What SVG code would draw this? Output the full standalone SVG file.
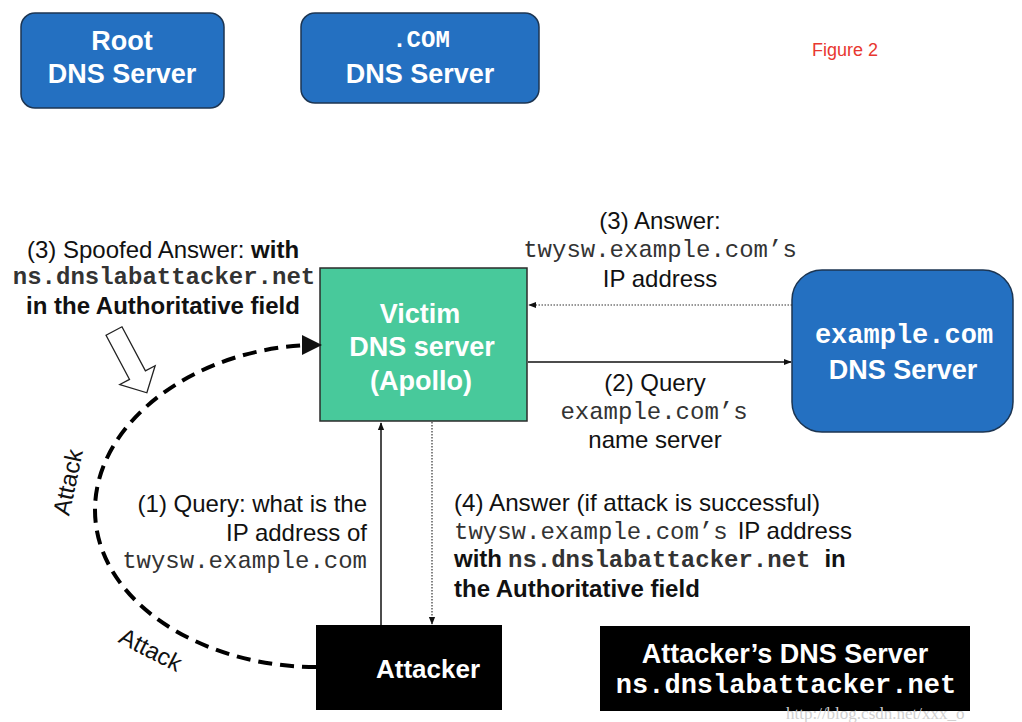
<svg xmlns="http://www.w3.org/2000/svg" width="1022" height="722" viewBox="0 0 1022 722">
<style>
.sans{font-family:"Liberation Sans",Arial,sans-serif}
.mono{font-family:"Liberation Mono","Courier New",monospace}
.lbl{font-family:"Liberation Sans",Arial,sans-serif;font-size:24px;fill:#111}
.ml{font-family:"Liberation Mono","Courier New",monospace;font-size:24px;fill:#333}
.b{font-weight:bold}
.wt{fill:#fff;font-weight:bold;font-family:"Liberation Sans",Arial,sans-serif;font-size:27px;text-anchor:middle}
.blue{fill:#2470c1;stroke:#1c3552;stroke-width:1.5}
</style>
<defs>
<marker id="ah" viewBox="0 0 10 10" refX="9" refY="5" markerWidth="8" markerHeight="8" markerUnits="userSpaceOnUse" orient="auto">
<path d="M0,1 L10,5 L0,9 Z" fill="#111"/>
</marker>
<marker id="ahb" viewBox="0 0 10 10" refX="8" refY="5" markerWidth="5" markerHeight="5" orient="auto">
<path d="M0,0 L10,5 L0,10 Z" fill="#111"/>
</marker>
</defs>
<rect width="1022" height="722" fill="#fff"/>

<g id="root-dns">
<rect class="blue" x="21" y="13" width="203" height="95" rx="14"/>
<text class="wt" x="122" y="50">Root</text>
<text class="wt" x="122" y="83">DNS Server</text>
</g>
<g id="com-dns">
<rect class="blue" x="301" y="13" width="238" height="90" rx="14"/>
<text class="wt" x="421" y="47" style="font-family:'Liberation Mono','Courier New',monospace;font-size:24px">.COM</text>
<text class="wt" x="420" y="83">DNS Server</text>
</g>
<text id="figure-label" class="sans" x="812" y="56" font-size="18" fill="#e8372f">Figure 2</text>

<g id="victim">
<rect x="320" y="268" width="207" height="153" fill="#48c99b" stroke="#2b2b2b" stroke-width="1.5"/>
<text class="wt" x="420" y="323">Victim</text>
<text class="wt" x="422" y="356">DNS server</text>
<text class="wt" x="421" y="390">(Apollo)</text>
</g>
<g id="example-dns">
<rect class="blue" x="792" y="270" width="221" height="162" rx="30"/>
<text class="wt" x="904" y="343" style="font-family:'Liberation Mono','Courier New',monospace;font-size:27px">example.com</text>
<text class="wt" x="903" y="379">DNS Server</text>
</g>
<g id="attacker">
<rect x="316" y="625" width="186" height="85" fill="#000"/>
<text class="wt" x="428" y="678" font-size="26" style="font-size:26px">Attacker</text>
</g>
<g id="attacker-dns">
<rect x="600" y="626" width="370" height="85" fill="#000"/>
<text class="wt" x="785" y="663">Attacker’s DNS Server</text>
<text class="wt" x="786" y="693" style="font-family:'Liberation Mono','Courier New',monospace;font-size:27px">ns.dnslabattacker.net</text>
</g>

<g id="connectors" fill="none">
<path d="M792,305 L529,305" stroke="#333" stroke-width="1.2" stroke-dasharray="1.5,1.5" marker-end="url(#ah)"/>
<path d="M528,362 L791,362" stroke="#111" stroke-width="1.5" marker-end="url(#ah)"/>
<path d="M381,625 L381,423" stroke="#111" stroke-width="1.5" marker-end="url(#ah)"/>
<path d="M432,422 L432,624" stroke="#333" stroke-width="1.2" stroke-dasharray="1.5,1.5" marker-end="url(#ah)"/>
<path d="M316,667 C200,667 95,600 95,510 C95,420 200,345 318,345" stroke="#000" stroke-width="4" stroke-dasharray="14,8" marker-end="url(#ahb)"/>
<polygon transform="translate(114,331) rotate(62)" points="0,-9 50,-9 50,-20 70,0 50,20 50,9 0,9" fill="#fff" stroke="#222" stroke-width="1.3"/>
</g>

<g id="labels">
<text class="lbl" x="163" y="258" text-anchor="middle">(3) Spoofed Answer: <tspan class="b">with</tspan></text>
<text class="ml b" x="164" y="284" text-anchor="middle" fill="#111">ns.dnslabattacker.net</text>
<text class="lbl b" x="163" y="314" text-anchor="middle">in the Authoritative field</text>

<text class="lbl" x="660" y="229" text-anchor="middle">(3) Answer:</text>
<text class="ml" x="660" y="257" text-anchor="middle">twysw.example.com’s</text>
<text class="lbl" x="660" y="287" text-anchor="middle">IP address</text>

<text class="lbl" x="655" y="391" text-anchor="middle">(2) Query</text>
<text class="ml" x="654" y="419" text-anchor="middle">example.com’s</text>
<text class="lbl" x="655" y="448" text-anchor="middle">name server</text>

<text class="lbl" x="367" y="512" text-anchor="end">(1) Query: what is the</text>
<text class="lbl" x="367" y="541" text-anchor="end">IP address of</text>
<text class="ml" x="367" y="568" text-anchor="end">twysw.example.com</text>

<text class="lbl" x="454" y="511" textLength="366" lengthAdjust="spacingAndGlyphs">(4) Answer (if attack is successful)</text>
<text x="454" y="539"><tspan class="ml">twysw.example.com’s</tspan><tspan class="lbl" dx="10">IP address</tspan></text>
<text x="454" y="567"><tspan class="lbl b">with</tspan><tspan class="ml b" dx="6" fill="#111">ns.dnslabattacker.net</tspan><tspan class="lbl b" dx="14">in</tspan></text>
<text class="lbl b" x="454" y="597">the Authoritative field</text>

<text class="lbl" transform="translate(76,484) rotate(-78)" text-anchor="middle">Attack</text>
<text class="lbl" transform="translate(147,657) rotate(27)" text-anchor="middle">Attack</text>
</g>
<text id="watermark" x="786" y="719" font-family="'Liberation Serif',serif" font-size="17" fill="#d0d0d0">http://blog.csdn.net/xxx_o</text>
</svg>
